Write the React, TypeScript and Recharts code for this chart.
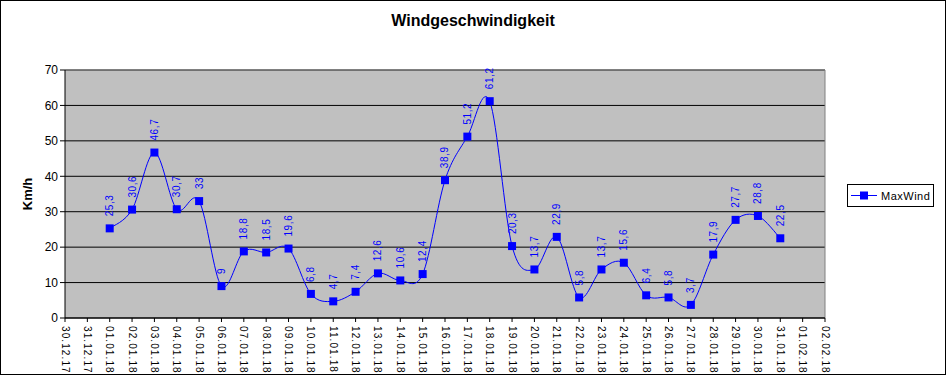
import { LineChart, Line, XAxis, YAxis, CartesianGrid, ReferenceLine, LabelList } from 'recharts';

const dates = [
  '30.12.17', '31.12.17', '01.01.18', '02.01.18', '03.01.18', '04.01.18', '05.01.18', '06.01.18',
  '07.01.18', '08.01.18', '09.01.18', '10.01.18', '11.01.18', '12.01.18', '13.01.18', '14.01.18',
  '15.01.18', '16.01.18', '17.01.18', '18.01.18', '19.01.18', '20.01.18', '21.01.18', '22.01.18',
  '23.01.18', '24.01.18', '25.01.18', '26.01.18', '27.01.18', '28.01.18', '29.01.18', '30.01.18',
  '31.01.18', '01.02.18', '02.02.18',
];

const maxWind = [
  null, null, 25.3, 30.6, 46.7, 30.7, 33, 9,
  18.8, 18.5, 19.6, 6.8, 4.7, 7.4, 12.6, 10.6,
  12.4, 38.9, 51.2, 61.2, 20.3, 13.7, 22.9, 5.8,
  13.7, 15.6, 6.4, 5.8, 3.7, 17.9, 27.7, 28.8,
  22.5, null, null,
];

const yTicks = [0, 10, 20, 30, 40, 50, 60, 70];

const data = dates.map((date, i) => ({ date, MaxWind: maxWind[i] }));

const FONT = '"Liberation Sans", Arial, sans-serif';
const BLUE = '#0000FF';

// smoothed line like the old excel charts (catmull-rom through the points)
function excelSmooth(context: any) {
  let pts: number[][] = [];
  return {
    areaStart() {},
    areaEnd() {},
    lineStart() {
      pts = [];
    },
    lineEnd() {
      const n = pts.length;
      if (n === 0) return;
      context.moveTo(pts[0][0], pts[0][1]);
      for (let i = 0; i < n - 1; i++) {
        const p0 = pts[i - 1] || pts[i];
        const p1 = pts[i];
        const p2 = pts[i + 1];
        const p3 = pts[i + 2] || p2;
        context.bezierCurveTo(
          p1[0] + (p2[0] - p0[0]) / 6, p1[1] + (p2[1] - p0[1]) / 6,
          p2[0] - (p3[0] - p1[0]) / 6, p2[1] - (p3[1] - p1[1]) / 6,
          p2[0], p2[1],
        );
      }
    },
    point(x: number, y: number) {
      pts.push([+x, +y]);
    },
  };
}

function SquareDot(props: any) {
  const { cx, cy, value } = props;
  if (value == null || cy == null) return <g />;
  return <rect x={cx - 4} y={cy - 4} width={8} height={8} fill={BLUE} />;
}

function ValueLabel(props: any) {
  const { x, y, value } = props;
  if (value == null) return null;
  const ty = y - 12;
  return (
    <text
      x={x}
      y={ty}
      transform={`rotate(-90, ${x}, ${ty})`}
      textAnchor="start"
      dominantBaseline="central"
      fontSize={10}
      fontFamily={FONT}
      fill={BLUE}
      letterSpacing={0.6}
    >
      {String(value).replace('.', ',')}
    </text>
  );
}

function DateTick(props: any) {
  const { x, y, payload } = props;
  return (
    <g transform={`translate(${x},${y})`}>
      <text
        x={2}
        y={0}
        transform="rotate(90)"
        textAnchor="start"
        dominantBaseline="central"
        fontSize={10}
        fontFamily={FONT}
        fill="#000"
        letterSpacing={1.1}
      >
        {payload.value}
      </text>
    </g>
  );
}

export default function App() {
  return (
    <div style={{ position: 'relative', width: 946, height: 375, background: '#fff', fontFamily: FONT }}>
      <style>{'body{margin:0}'}</style>
      <LineChart width={946} height={375} data={data} margin={{ top: 70, right: 121, bottom: 0, left: 0 }}>
        <CartesianGrid vertical={false} stroke="#000" strokeWidth={1} fill="#C0C0C0" fillOpacity={1} />
        <XAxis
          dataKey="date"
          interval={0}
          height={57}
          tick={<DateTick />}
          tickSize={4}
          axisLine={{ stroke: '#000' }}
          tickLine={{ stroke: '#000' }}
        />
        <YAxis
          domain={[0, 70]}
          ticks={yTicks}
          width={65}
          tickSize={5}
          tick={{ fontSize: 12, fill: '#000', fontFamily: FONT }}
          axisLine={{ stroke: '#000' }}
          tickLine={{ stroke: '#000' }}
          label={() => (
            <text
              x={27}
              y={194}
              transform="rotate(-90, 27, 194)"
              textAnchor="middle"
              dominantBaseline="central"
              fontSize={13}
              fontWeight="bold"
              fontFamily={FONT}
              fill="#000"
            >
              Km/h
            </text>
          )}
        />
        <ReferenceLine y={70} stroke="#808080" />
        <ReferenceLine x="02.02.18" stroke="#808080" />
        <Line
          dataKey="MaxWind"
          type={excelSmooth as any}
          stroke={BLUE}
          strokeWidth={1}
          dot={<SquareDot />}
          activeDot={false}
          connectNulls={false}
          isAnimationActive={false}
        >
          <LabelList dataKey="MaxWind" content={<ValueLabel />} />
        </Line>
      </LineChart>
      <div
        style={{
          position: 'absolute', left: 0, top: 12, width: 946, textAlign: 'center',
          fontSize: 16, fontWeight: 'bold', color: '#000',
        }}
      >
        Windgeschwindigkeit
      </div>
      <div
        style={{
          position: 'absolute', left: 847, top: 184, width: 87, height: 23, boxSizing: 'border-box',
          border: '1px solid #000', background: '#fff', display: 'flex', alignItems: 'center',
        }}
      >
        <svg width={30} height={21} style={{ marginLeft: 3 }}>
          <line x1={0} y1={10.5} x2={26} y2={10.5} stroke={BLUE} strokeWidth={1} />
          <rect x={9} y={6.5} width={8} height={8} fill={BLUE} />
        </svg>
        <span style={{ fontSize: 11, letterSpacing: 0.5, color: '#000' }}>MaxWind</span>
      </div>
      <div
        style={{
          position: 'absolute', left: 0, top: 0, width: 946, height: 375, boxSizing: 'border-box',
          border: '1px solid #000', pointerEvents: 'none',
        }}
      />
    </div>
  );
}
